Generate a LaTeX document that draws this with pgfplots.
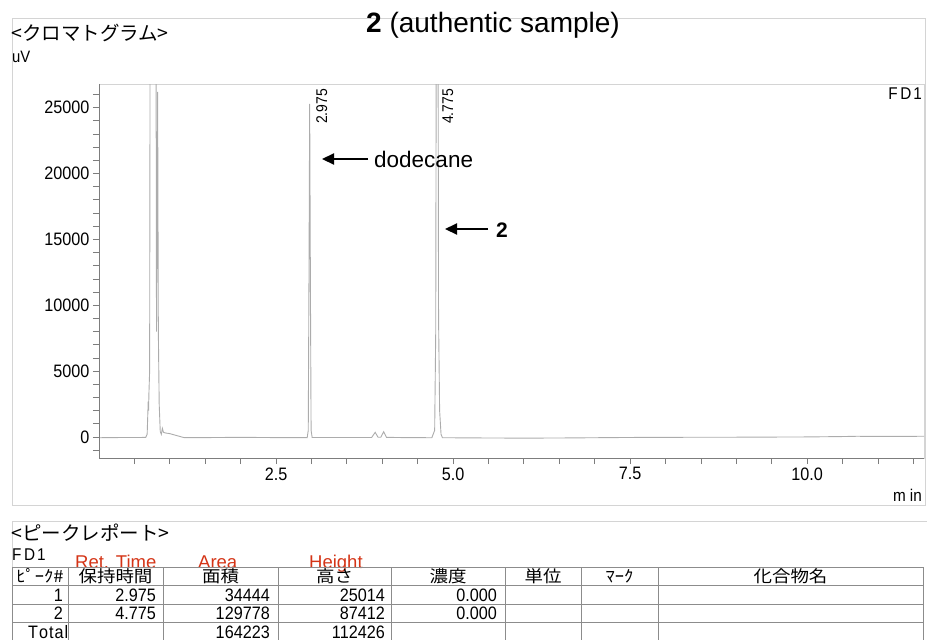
\documentclass[border=0pt]{standalone}
\usepackage{fontspec}
\setmainfont{Liberation Sans}
\newfontfamily\narrow[FakeStretch=0.9]{Liberation Sans}
\newfontfamily\jp{Noto Sans CJK JP}
\newfontfamily\jpw[FakeStretch=1.12]{Noto Sans CJK JP}
\usepackage{pgfplots}
\pgfplotsset{compat=1.18}
\usetikzlibrary{arrows.meta}

\definecolor{trace}{RGB}{172,172,172}
\definecolor{axgray}{RGB}{125,125,125}
\definecolor{framegray}{RGB}{212,212,212}
\definecolor{tabgray}{RGB}{140,140,140}
\definecolor{hdred}{RGB}{212,52,22}
\newcommand{\fs}[1]{\fontsize{#1}{#1}\selectfont}

\begin{document}
\begin{tikzpicture}
\path[use as bounding box] (0pt,0pt) rectangle (928pt,-640pt);

% panel frames
\draw[framegray, line width=0.8pt] (12pt,-18pt) rectangle (925pt,-505pt);
\draw[framegray, line width=0.8pt] (12pt,-640pt) -- (12pt,-521pt) -- (927pt,-521pt);

% headings
\node[anchor=center, inner sep=0pt] at (493pt,-25pt) {\fs{28}\textbf{2} (authentic sample)};
\node[anchor=west, inner sep=0pt] at (11pt,-33pt) {\jp\fs{19.5}<クロマトグラム>};
\node[anchor=west, inner sep=0pt] at (12pt,-57pt) {\narrow\fs{16.5}uV};

\begin{axis}[
    name=ax,
    at={(99pt,-458pt)}, anchor=south west,
    scale only axis,
    width=825pt, height=374pt,
    xmin=0, xmax=11.65,
    ymin=-1600, ymax=26800,
    scaled y ticks=false,
    scaled x ticks=false,
    axis line style={draw=framegray, line width=1pt},
    tick pos=left,
    tick align=outside,
    tick style={axgray, line width=0.8pt},
    major tick length=6pt,
    minor tick length=6pt,
    xtick={2.5,5,7.5,10},
    xticklabels={2.5,5.0,7.5,10.0},
    minor xtick={0.5,1,1.5,2,3,3.5,4,4.5,5.5,6,6.5,7,8,8.5,9,9.5,10.5,11,11.5},
    ytick={0,5000,10000,15000,20000,25000},
    yticklabels={0,5000,10000,15000,20000,25000},
    minor ytick={-1000,1000,2000,3000,4000,6000,7000,8000,9000,11000,12000,13000,14000,16000,17000,18000,19000,21000,22000,23000,24000,26000},
    ticklabel style={font=\narrow\fs{18}, text=black},
]
\addplot[trace, line width=0.9pt] coordinates {
    (0.00,-60) (0.20,-50) (0.40,-40) (0.60,-40) (0.66,-30)
    (0.68,200) (0.695,2700) (0.700,2000) (0.705,3300) (0.715,5000)
    (0.722,32000) (0.805,32000) (0.812,8000) (0.828,26200) (0.838,8000)
    (0.850,2500) (0.865,400) (0.880,200) (0.895,650) (0.910,350)
    (0.94,300) (1.00,250) (1.10,100) (1.20,-50) (1.50,-50) (2.00,-30)
    (2.50,-50) (2.94,-50) (2.955,500) (2.965,12000) (2.975,25300)
    (2.985,12000) (2.995,500) (3.01,-40) (3.50,-40) (3.85,-40)
    (3.90,350) (3.94,-20) (3.98,-20) (4.02,400) (4.06,-30) (4.30,-50)
    (4.70,-60) (4.74,500) (4.755,8000) (4.765,40000) (4.785,40000)
    (4.795,9000) (4.81,2000) (4.83,200) (4.85,-60) (5.5,-80) (6.0,-90)
    (6.5,-80) (7.0,-60) (7.5,-40) (8.0,-30) (9.0,-20) (10.0,0)
    (10.5,30) (10.7,50) (11.0,40) (11.65,50)
};
\end{axis}

% darker left and bottom axis lines
\draw[axgray, line width=1pt] (ax.north west) -- (ax.south west) -- (ax.south east);

% peak labels and annotations
\node[rotate=90, anchor=base west, inner sep=0pt] at (327pt,-124pt) {\narrow\fs{15.5}2.975};
\node[rotate=90, anchor=base west, inner sep=0pt] at (453pt,-124pt) {\narrow\fs{15.5}4.775};
\node[anchor=east, inner sep=0pt] at (922pt,-94pt) {\narrow\fs{17}F\kern2.5pt D\kern2pt 1};
\node[anchor=east, inner sep=0pt] at (922pt,-495pt) {\narrow\fs{17}m\kern4pt in};

\draw[-{Triangle[length=12pt, width=11pt]}, line width=2.2pt] (368pt,-159pt) -- (322pt,-159pt);
\node[anchor=base west, inner sep=0pt] at (374pt,-167pt) {\fs{22.5}dodecane};
\draw[-{Triangle[length=12pt, width=11pt]}, line width=2.2pt] (488pt,-229pt) -- (445pt,-229pt);
\node[anchor=base west, inner sep=0pt] at (496pt,-237pt) {\fs{21}\textbf{2}};

% peak report
\node[anchor=west, inner sep=0pt] at (11pt,-533pt) {\jp\fs{19.5}<ピークレポート>};
\node[anchor=west, inner sep=0pt] at (12pt,-555pt) {\narrow\fs{17}F\kern2.5pt D\kern2pt 1};
\node[anchor=base west, inner sep=0pt, text=hdred] at (75pt,-568pt) {\fs{18.5}Ret. Time};
\node[anchor=base west, inner sep=0pt, text=hdred] at (198pt,-568pt) {\fs{18.5}Area};
\node[anchor=base west, inner sep=0pt, text=hdred] at (309pt,-568pt) {\fs{18.5}Height};

\draw[tabgray, line width=0.9pt]
    (12pt,-567pt) -- (923pt,-567pt)
    (12pt,-585pt) -- (923pt,-585pt)
    (12pt,-604pt) -- (923pt,-604pt)
    (12pt,-622pt) -- (923pt,-622pt);
\foreach \cx in {12,68,163,278,391,505,581,658,923}
    \draw[tabgray, line width=0.9pt] (\cx pt,-567pt) -- (\cx pt,-640pt);

\foreach \cx/\txt in {40/ﾋﾟｰｸ\#,115.5/保持時間,220.5/面積,334.5/高さ,448/濃度,543/単位,619.5/ﾏｰｸ,790.5/化合物名}
    \node[anchor=center, inner sep=0pt] at (\cx pt,-576pt) {\jpw\fs{16.5}\txt};

\foreach \cx/\txt in {63/1,156/2.975,270/34444,385/25014,497/0.000}
    \node[anchor=east, inner sep=0pt] at (\cx pt,-595pt) {\narrow\fs{18}\txt};
\foreach \cx/\txt in {63/2,156/4.775,270/129778,385/87412,497/0.000}
    \node[anchor=east, inner sep=0pt] at (\cx pt,-613pt) {\narrow\fs{18}\txt};
\node[anchor=west, inner sep=0pt] at (28pt,-632pt) {\narrow\fs{18}T\kern1pt o\kern1pt t\kern1pt a\kern1pt l};
\foreach \cx/\txt in {270/164223,385/112426}
    \node[anchor=east, inner sep=0pt] at (\cx pt,-632pt) {\narrow\fs{18}\txt};
\end{tikzpicture}
\end{document}
